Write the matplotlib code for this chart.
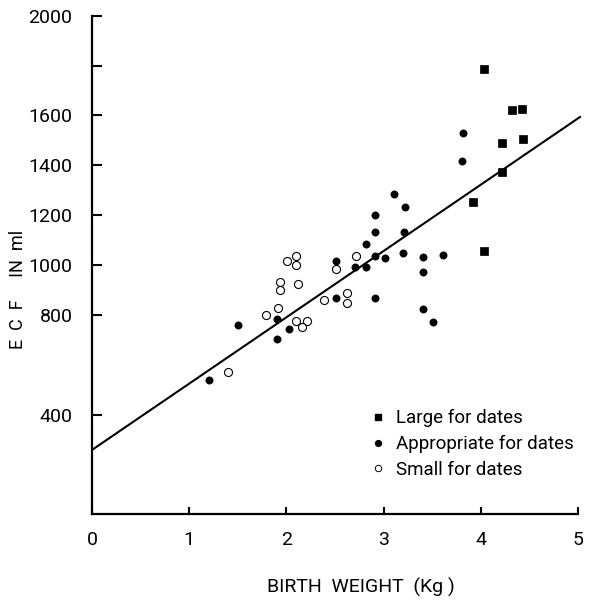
import matplotlib
matplotlib.use("Agg")
import matplotlib.pyplot as plt
import numpy as np
from matplotlib.lines import Line2D

plt.rcParams['font.family'] = ['Roboto', 'DejaVu Sans']

# Birth weight (kg) and extracellular fluid volume (ml) by group
large_w = [4.03, 4.32, 4.42, 4.22, 4.43, 4.22, 3.92, 4.03]
large_ecf = [1785, 1622, 1624, 1488, 1504, 1372, 1253, 1057]

appr_w = [1.20, 1.50, 1.90, 1.90, 2.03, 2.51, 2.51, 2.71, 2.82, 2.82,
          2.91, 2.91, 2.91, 2.91, 3.01, 3.11, 3.22, 3.21, 3.20, 3.41,
          3.41, 3.41, 3.51, 3.61, 3.81, 3.82]
appr_ecf = [538, 758, 784, 703, 744, 1017, 866, 992, 991, 1083,
            1202, 1131, 1036, 866, 1027, 1285, 1231, 1132, 1049, 1033,
            973, 822, 772, 1041, 1417, 1531]

small_w = [1.40, 1.79, 1.91, 1.93, 1.93, 2.01, 2.10, 2.10, 2.12, 2.10,
           2.21, 2.16, 2.39, 2.51, 2.62, 2.62, 2.72]
small_ecf = [571, 799, 826, 933, 898, 1016, 1037, 1001, 922, 777,
             777, 753, 858, 984, 889, 849, 1036]

# Regression line ECF = a + b * weight
fit_intercept = 258
fit_slope = 266
fit_range = [0, 5.03]

x_ticks = [0, 1, 2, 3, 4, 5]
x_tick_labels = ['0', '1', '2', '3', '4', '5']
y_ticks = [400, 800, 1000, 1200, 1400, 1600, 1800, 2000]
y_tick_labels = ['400', '800', '1000', '1200', '1400', '1600', '', '2000']

fig = plt.figure(figsize=(5.93, 6.04), dpi=100)
ax = fig.add_axes([0.155, 0.1485, 0.8196, 0.8255])

fx = np.array(fit_range)
ax.plot(fx, fit_intercept + fit_slope * fx, color='black', lw=1.5,
        solid_capstyle='butt', clip_on=False, zorder=2)

ax.plot(large_w, large_ecf, linestyle='none', marker='s', ms=5.6,
        mfc='black', mec='black', mew=0.5, clip_on=False, zorder=3)
ax.plot(appr_w, appr_ecf, linestyle='none', marker='o', ms=5.2,
        mfc='black', mec='black', mew=0.5, clip_on=False, zorder=3)
ax.plot(small_w, small_ecf, linestyle='none', marker='o', ms=5.8,
        mfc='white', mec='black', mew=0.8, clip_on=False, zorder=3)

ax.set_xlim(0, 5)
ax.set_ylim(0, 2000)
ax.set_xticks(x_ticks)
ax.set_xticklabels(x_tick_labels)
ax.set_yticks(y_ticks)
ax.set_yticklabels(y_tick_labels)

for side in ('top', 'right'):
    ax.spines[side].set_visible(False)
for side in ('left', 'bottom'):
    ax.spines[side].set_linewidth(1.6)

ax.tick_params(axis='both', direction='in', width=1.5, labelsize=14)
ax.tick_params(axis='y', length=7, pad=14)
ax.tick_params(axis='x', length=5, pad=12)

handles = [
    Line2D([], [], linestyle='none', marker='s', ms=4.5, mfc='black', mec='black'),
    Line2D([], [], linestyle='none', marker='o', ms=4.2, mfc='black', mec='black'),
    Line2D([], [], linestyle='none', marker='o', ms=4.6, mfc='white', mec='black', mew=0.7),
]
labels = ['Large for dates', 'Appropriate for dates', 'Small for dates']
ax.legend(handles, labels, loc='upper left', bbox_to_anchor=(372 / 593, 1 - 409 / 604),
          bbox_transform=fig.transFigure, frameon=False, fontsize=13.5,
          handlelength=0.6, handletextpad=0.7, labelspacing=0.42, borderpad=0,
          borderaxespad=0)

fig.text(0.030, 0.5215, 'E  C  F     IN  ml', rotation=90, ha='center', va='center', fontsize=13)
fig.text(0.609, 0.027, 'BIRTH  WEIGHT  (Kg )', ha='center', va='center', fontsize=14)

fig.savefig('out.png', dpi=100)
